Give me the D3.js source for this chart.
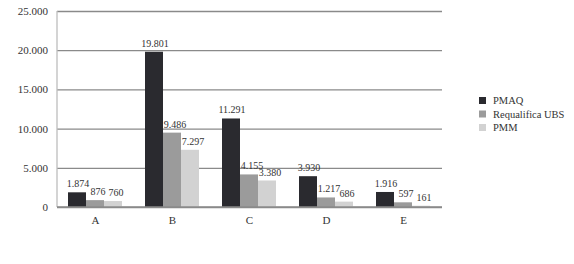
<!DOCTYPE html>
<html>
<head>
<meta charset="utf-8">
<script src="https://cdn.jsdelivr.net/npm/d3@7"></script>
<style>
  body { margin: 0; background: #fff; }
  text { font-family: "Liberation Serif", "DejaVu Serif", serif; fill: #333; }
</style>
</head>
<body>
<div id="main"></div>
<script>
const ctx = {
    w: 574,
    h: 264,
    left: 57,
    right: 442,
    top: 11,
    bottom: 207,
    labelShift: 3, // value labels of the lighter bars sit a bit to the right
};

const CATEGORIES = ["A", "B", "C", "D", "E"];
const SERIES = ["PMAQ", "Requalifica UBS", "PMM"];
const VALUES = {
    "PMAQ": [1874, 19801, 11291, 3930, 1916],
    "Requalifica UBS": [876, 9486, 4155, 1217, 597],
    "PMM": [760, 7297, 3380, 686, 161],
};
const Y_TICKS = [0, 5000, 10000, 15000, 20000, 25000];
const COLORS = ["#2a2a2f", "#9b9b9b", "#d2d2d2"];

const fmt = (v) => d3.format(",")(v).replace(/,/g, ".");

function createViz() {
    let svgEl = d3.select("#main").append("svg")
        .attr("width", ctx.w)
        .attr("height", ctx.h);

    let x0 = d3.scaleBand().domain(CATEGORIES).range([ctx.left, ctx.right]);
    let x1 = d3.scaleBand().domain(SERIES).range([11, x0.bandwidth() - 12]);
    let y = d3.scaleLinear().domain([0, 25000]).range([ctx.bottom, ctx.top]);
    let color = d3.scaleOrdinal().domain(SERIES).range(COLORS);

    // grid lines + y labels
    let yAxis = svgEl.append("g")
        .attr("transform", `translate(${ctx.left},0)`)
        .call(d3.axisLeft(y).tickValues(Y_TICKS).tickFormat(fmt)
            .tickSize(-(ctx.right - ctx.left)).tickPadding(9));
    yAxis.select(".domain").remove();
    yAxis.selectAll(".tick line").attr("stroke", "#8a8a8a").attr("stroke-width", 1.3);
    yAxis.selectAll(".tick text").attr("font-size", 11).attr("fill", "#333")
        .attr("font-family", "Liberation Serif");

    // vertical axis line
    svgEl.append("line")
        .attr("x1", ctx.left).attr("x2", ctx.left)
        .attr("y1", ctx.top).attr("y2", ctx.bottom)
        .attr("stroke", "#bdbdbd").attr("stroke-width", 1.3);

    // bars
    CATEGORIES.forEach(function (c, i) {
        let g = svgEl.append("g").attr("transform", `translate(${x0(c)},0)`);
        SERIES.forEach(function (s, k) {
            let v = VALUES[s][i];
            g.append("rect")
                .attr("x", x1(s))
                .attr("y", y(v))
                .attr("width", x1.bandwidth())
                .attr("height", y(0) - y(v))
                .attr("fill", color(s));
            g.append("text")
                .attr("x", x1(s) + x1.bandwidth() / 2 + (k > 0 ? ctx.labelShift : 1))
                .attr("y", y(v) - 5)
                .attr("text-anchor", "middle")
                .attr("font-size", 10)
                .text(fmt(v));
        });
    });

    // baseline
    svgEl.append("line")
        .attr("x1", ctx.left).attr("x2", ctx.right)
        .attr("y1", ctx.bottom).attr("y2", ctx.bottom)
        .attr("stroke", "#8a8a8a").attr("stroke-width", 1.3);

    // x labels
    let xAxis = svgEl.append("g")
        .attr("transform", `translate(0,${ctx.bottom})`)
        .call(d3.axisBottom(x0).tickSize(0).tickPadding(9));
    xAxis.select(".domain").remove();
    xAxis.selectAll(".tick text").attr("font-size", 11).attr("fill", "#333")
        .attr("font-family", "Liberation Serif");

    // legend
    let legendG = svgEl.append("g").attr("transform", "translate(479,97)");
    SERIES.forEach(function (s, i) {
        legendG.append("rect")
            .attr("x", 0).attr("y", i * 13.5)
            .attr("width", 7).attr("height", 7)
            .attr("fill", color(s));
        legendG.append("text")
            .attr("x", 14).attr("y", i * 13.5 + 7)
            .attr("font-size", 10.5)
            .text(s);
    });
}

createViz();
</script>
</body>
</html>
